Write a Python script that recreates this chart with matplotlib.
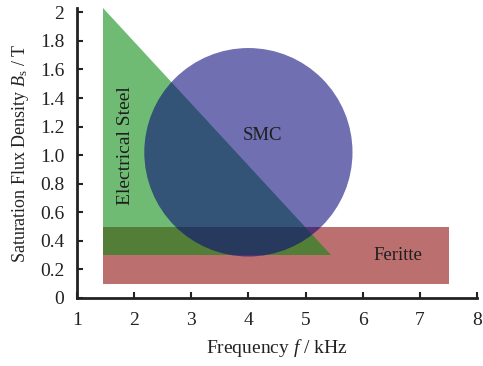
import matplotlib
matplotlib.use("Agg")
import matplotlib.pyplot as plt
from matplotlib.patches import Polygon, Rectangle, Ellipse

# Region data (frequency in kHz, flux density in T)
steel_f = [1.45, 1.45, 5.45]
steel_b = [2.03, 0.30, 0.30]
ferrite_f = [1.45, 7.5]
ferrite_b = [0.1, 0.5]
smc_center = [4.0, 1.02]
smc_radius_f = 1.82
smc_radius_b = 0.73

x_ticks = [1, 2, 3, 4, 5, 6, 7, 8]
y_ticks = [0, 0.2, 0.4, 0.6, 0.8, 1.0, 1.2, 1.4, 1.6, 1.8, 2.0]
y_tick_labels = ["0", "0.2", "0.4", "0.6", "0.8", "1.0", "1.2", "1.4", "1.6", "1.8", "2"]

plt.rcParams["font.family"] = "Liberation Serif"
plt.rcParams["mathtext.fontset"] = "custom"
plt.rcParams["mathtext.rm"] = "Liberation Serif"
plt.rcParams["mathtext.it"] = "Liberation Serif:italic"

fig = plt.figure(figsize=(4.83, 3.66), dpi=100)
ax = fig.add_axes([0.159, 0.186, 0.829, 0.792])

ax.add_patch(Rectangle((ferrite_f[0], ferrite_b[0]), ferrite_f[1] - ferrite_f[0],
                       ferrite_b[1] - ferrite_b[0], facecolor="#8a0808", alpha=0.58,
                       edgecolor="none"))
ax.add_patch(Polygon(list(zip(steel_f, steel_b)), closed=True, facecolor="#088a10",
                     alpha=0.58, edgecolor="none"))
ax.add_patch(Ellipse(smc_center, 2 * smc_radius_f, 2 * smc_radius_b, facecolor="#08087a",
                     alpha=0.58, edgecolor="none"))

ax.text(1.86, 1.07, "Electrical Steel", rotation=90, ha="center", va="center",
        fontsize=14, color="#1e1e1e")
ax.text(4.25, 1.14, "SMC", ha="center", va="center", fontsize=13.5, color="#1e1e1e")
ax.text(6.62, 0.30, "Feritte", ha="center", va="center", fontsize=13.5, color="#1e1e1e")

ax.set_xlim(1, 8)
ax.set_ylim(0, 2.03)
ax.set_xticks(x_ticks)
ax.set_yticks(y_ticks)
ax.set_yticklabels(y_tick_labels)
ax.tick_params(direction="in", length=4, width=1.5, labelsize=14, colors="#222222")
ax.tick_params(axis="y", pad=9)
ax.tick_params(axis="x", pad=10)

for side in ["top", "right"]:
    ax.spines[side].set_visible(False)
for side in ["left", "bottom"]:
    ax.spines[side].set_linewidth(2)
    ax.spines[side].set_color("#222222")

ax.set_xlabel(r"Frequency $\mathit{f}$ / kHz", fontsize=14, color="#222222", va="center")
ax.set_ylabel(r"Saturation Flux Density $\mathit{B}_\mathrm{s}$ / T", fontsize=13,
              color="#222222", va="center")
ax.xaxis.set_label_coords(0.5, -0.172)
ax.yaxis.set_label_coords(-0.14, 0.5)

fig.savefig("out.png", dpi=100)
